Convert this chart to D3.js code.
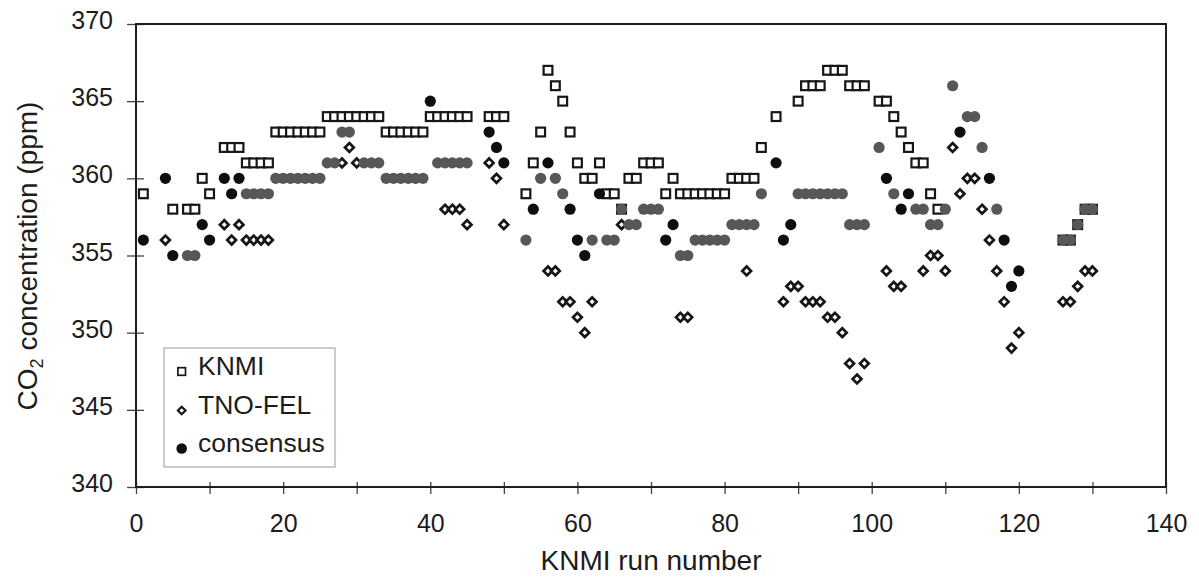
<!DOCTYPE html>
<html>
<head>
<meta charset="utf-8">
<script src="https://cdn.jsdelivr.net/npm/d3@7"></script>
<style>
  html, body { margin: 0; padding: 0; background: #fff; }
  svg text { font-family: "Liberation Sans", Arial, Helvetica, sans-serif; fill: #1c1c1c; }
</style>
</head>
<body>
<svg id="chart" width="1199" height="578"></svg>
<script>
// CO2 concentration (ppm) per KNMI run number 0..130; null = no reading
const knmi = [
  null, 359, null, null, null, 358, null, 358, 358, 360,
  359, null, 362, 362, 362, 361, 361, 361, 361, 363,
  363, 363, 363, 363, 363, 363, 364, 364, 364, 364,
  364, 364, 364, 364, 363, 363, 363, 363, 363, 363,
  364, 364, 364, 364, 364, 364, null, null, 364, 364,
  364, null, null, 359, 361, 363, 367, 366, 365, 363,
  361, 360, 360, 361, 359, 359, 358, 360, 360, 361,
  361, 361, 359, 360, 359, 359, 359, 359, 359, 359,
  359, 360, 360, 360, 360, 362, null, 364, null, null,
  365, 366, 366, 366, 367, 367, 367, 366, 366, 366,
  null, 365, 365, 364, 363, 362, 361, 361, 359, 358,
  null, null, null, null, null, null, null, null, null, null,
  null, null, null, null, null, null, 356, 356, 357, 358,
  358
];

const tnoFel = [
  null, null, null, null, 356, null, null, null, null, null,
  null, null, 357, 356, 357, 356, 356, 356, 356, null,
  null, null, null, null, null, null, null, null, 361, 362,
  361, null, null, null, null, null, null, null, null, null,
  null, null, 358, 358, 358, 357, null, null, 361, 360,
  357, null, null, null, null, null, 354, 354, 352, 352,
  351, 350, 352, null, null, null, 357, null, null, null,
  null, null, null, null, 351, 351, null, null, null, null,
  null, null, null, 354, null, null, null, null, 352, 353,
  353, 352, 352, 352, 351, 351, 350, 348, 347, 348,
  null, null, 354, 353, 353, null, null, 354, 355, 355,
  354, 362, 359, 360, 360, 358, 356, 354, 352, 349,
  350, null, null, null, null, null, 352, 352, 353, 354,
  354
];

const consensus = [
  null, 356, null, null, 360, 355, null, 355, 355, 357,
  356, null, 360, 359, 360, 359, 359, 359, 359, 360,
  360, 360, 360, 360, 360, 360, 361, 361, 363, 363,
  null, 361, 361, 361, 360, 360, 360, 360, 360, 360,
  365, 361, 361, 361, 361, 361, null, null, 363, 362,
  361, null, null, 356, 358, 360, 361, 360, 359, 358,
  356, 355, 356, 359, 356, 356, 358, 357, 357, 358,
  358, 358, 356, 357, 355, 355, 356, 356, 356, 356,
  356, 357, 357, 357, 357, 359, null, 361, 356, 357,
  359, 359, 359, 359, 359, 359, 359, 357, 357, 357,
  null, 362, 360, 359, 358, 359, 358, 358, 357, 357,
  358, 366, 363, 364, 364, 362, 360, 358, 356, 353,
  354, null, null, null, null, null, 356, 356, 357, 358,
  358
];

// consensus runs printed in solid black; the others carry the lighter halftone
const solidRuns = [1, 4, 5, 9, 10, 12, 13, 14, 40, 48, 49, 50, 54, 56, 59, 60, 61, 63,
                   72, 73, 87, 88, 89, 102, 104, 105, 112, 116, 118, 119, 120];

const xTicks = [0, 10, 20, 30, 40, 50, 60, 70, 80, 90, 100, 110, 120, 130, 140];
const yTicks = [340, 345, 350, 355, 360, 365, 370];
const legendLabels = ["KNMI", "TNO-FEL", "consensus"];

const plot = { left: 136, right: 1166, top: 24, bottom: 487 };
const x = d3.scaleLinear().domain([0, 140]).range([plot.left, plot.right]);
const y = d3.scaleLinear().domain([340, 370]).range([plot.bottom, plot.top]);

const svg = d3.select("#chart");
const ink = "#161616";

const pts = arr => arr.map((v, i) => ({ run: i, v })).filter(d => d.v !== null);

// x axis: ticks every 10, labels every 20
const gx = svg.append("g")
  .attr("transform", `translate(0,${plot.bottom})`)
  .call(d3.axisBottom(x).tickValues(xTicks).tickFormat(d => d % 20 === 0 ? d : ""));
gx.select(".domain").remove();
gx.selectAll(".tick line").attr("y1", -5).attr("y2", 7).attr("stroke", "#444").attr("stroke-width", 1.3);
gx.selectAll(".tick text").attr("y", 45).attr("dy", null)
  .attr("font-size", 25).attr("fill", "#1c1c1c");

// y axis
const gy = svg.append("g")
  .attr("transform", `translate(${plot.left},0)`)
  .call(d3.axisLeft(y).tickValues(yTicks));
gy.select(".domain").remove();
gy.selectAll(".tick line").attr("x1", -9).attr("x2", 8).attr("stroke", "#444").attr("stroke-width", 1.3);
gy.selectAll(".tick text").attr("x", -23).attr("dy", null).attr("y", 4.5)
  .attr("text-anchor", "end").attr("font-size", 25).attr("fill", "#1c1c1c");

// plot frame
svg.append("rect")
  .attr("x", plot.left).attr("y", plot.top)
  .attr("width", plot.right - plot.left).attr("height", plot.bottom - plot.top)
  .attr("fill", "none").attr("stroke", "#1e1e1e").attr("stroke-width", 2);

const marks = svg.append("g");

// KNMI: open squares
const sq = 8.8;
marks.append("g").selectAll("rect")
  .data(pts(knmi)).join("rect")
  .attr("x", d => x(d.run) - sq / 2).attr("y", d => y(d.v) - sq / 2)
  .attr("width", sq).attr("height", sq)
  .attr("fill", "#fff").attr("stroke", ink).attr("stroke-width", 2.2);

// TNO-FEL: open diamonds
const diamond = r => `M0,${-r}L${r},0L0,${r}L${-r},0Z`;
marks.append("g").selectAll("path")
  .data(pts(tnoFel)).join("path")
  .attr("transform", d => `translate(${x(d.run)},${y(d.v)})`)
  .attr("d", diamond(4.4))
  .attr("fill", "#fff").attr("stroke", ink).attr("stroke-width", 2.7);

// consensus: filled circles
const solid = new Set(solidRuns);
marks.append("g").selectAll("circle")
  .data(pts(consensus)).join("circle")
  .attr("cx", d => x(d.run)).attr("cy", d => y(d.v)).attr("r", 5.6)
  .attr("fill", d => solid.has(d.run) ? "#0e0e0e" : "#575757");

// legend
const lg = svg.append("g");
lg.append("rect").attr("x", 164).attr("y", 348).attr("width", 171).attr("height", 119)
  .attr("fill", "#fff").attr("stroke", "#9a9a9a").attr("stroke-width", 1);
const rowY = [371.5, 410.5, 448.5];
lg.append("rect").attr("x", 181.7 - 3.8).attr("y", rowY[0] - 3.8).attr("width", 7.6).attr("height", 7.6)
  .attr("fill", "#fff").attr("stroke", ink).attr("stroke-width", 1.7);
lg.append("path").attr("transform", `translate(181.7,${rowY[1]})`).attr("d", diamond(3.8))
  .attr("fill", "#fff").attr("stroke", ink).attr("stroke-width", 2.2);
lg.append("circle").attr("cx", 181.7).attr("cy", rowY[2]).attr("r", 5.3).attr("fill", "#0e0e0e");
lg.selectAll("text").data(legendLabels).join("text")
  .attr("x", 198).attr("y", (d, i) => rowY[i] + 3)
  .attr("font-size", 26.5).text(d => d);

// axis titles
svg.append("text").attr("x", 651).attr("y", 570).attr("text-anchor", "middle")
  .attr("font-size", 28).text("KNMI run number");

const yt = svg.append("text").attr("transform", "translate(37,256) rotate(-90)")
  .attr("text-anchor", "middle").attr("font-size", 28);
yt.append("tspan").text("CO");
yt.append("tspan").attr("font-size", 18).attr("dy", 6).text("2");
yt.append("tspan").attr("dy", -6).text(" concentration (ppm)");
</script>
</body>
</html>
